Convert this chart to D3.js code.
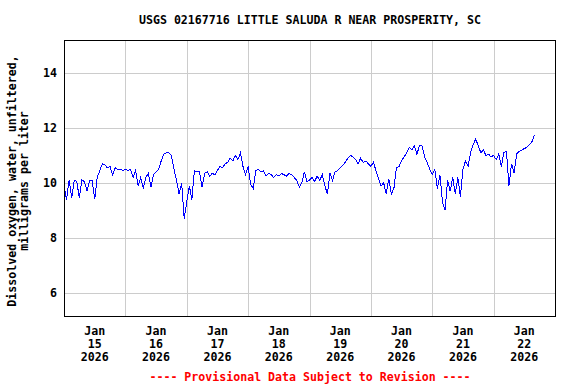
<!DOCTYPE html>
<html><head><meta charset="utf-8">
<script src="https://cdn.jsdelivr.net/npm/d3@7"></script>
<style>body{margin:0;background:#fff}svg{display:block}text{font-family:"DejaVu Sans Mono",monospace;font-weight:bold;font-size:11.6px}</style>
</head><body><svg id="c" width="576" height="384"></svg>
<script>
const title = "USGS 02167716 LITTLE SALUDA R NEAR PROSPERITY, SC";
const yLabel = ["Dissolved oxygen, water, unfiltered,", "milligrams per liter"];
const footnote = "---- Provisional Data Subject to Revision ----";
const startTime = "2026-01-15T00:00";
const endTime = "2026-01-23T00:00";
const yTicks = [6, 8, 10, 12, 14];
const yDomain = [5.16, 15.2];
const dayTicks = ["2026-01-15","2026-01-16","2026-01-17","2026-01-18","2026-01-19","2026-01-20","2026-01-21","2026-01-22"];
// hourly dissolved oxygen values (mg/L) from Jan 15 00:00
const doValues = [
 9.9,9.4,10.1,9.45,10.1,10.05,9.45,10.1,10.05,9.7,10.1,10.1,9.4,10.2,10.45,10.7,10.65,10.55,10.6,10.3,10.55,10.5,10.5,10.45,
 10.5,10.45,10.5,10.2,10.45,9.9,10.2,9.8,10.2,10.35,9.85,10.3,10.4,10.5,10.8,11.05,11.1,11.1,11.0,10.5,10.1,9.6,10.0,8.7,
 9.3,9.9,9.4,10.45,10.4,10.4,9.85,10.35,10.4,10.25,10.35,10.3,10.45,10.6,10.55,10.7,10.75,10.9,10.8,11.0,10.85,11.1,10.6,10.3,
 10.6,9.95,9.8,10.45,10.5,10.4,10.45,10.25,10.35,10.3,10.2,10.3,10.25,10.35,10.3,10.25,10.35,10.3,10.2,10.1,9.85,10.0,10.4,10.05,
 10.1,10.2,10.05,10.25,10.1,10.3,9.9,9.6,10.35,10.1,10.4,10.45,10.55,10.65,10.75,10.9,11.0,10.95,10.85,10.7,10.9,10.75,10.8,10.7,
 10.6,10.75,10.45,10.15,9.9,10.0,9.6,10.15,9.6,9.8,10.55,10.6,10.8,10.95,11.1,11.3,11.2,11.35,11.05,11.35,11.35,10.95,10.75,10.5,
 10.3,10.5,9.8,10.3,9.3,9.0,10.1,9.7,10.2,9.6,10.2,9.5,10.5,10.8,10.6,11.1,11.4,11.6,11.35,11.1,11.2,11.0,11.05,10.95,
 11.0,10.85,11.05,10.6,11.1,11.15,9.9,10.7,10.35,11.05,11.15,11.2,11.25,11.3,11.4,11.5,11.75
];

const parse = d3.timeParse("%Y-%m-%dT%H:%M");
const t0 = parse(startTime), t1 = parse(endTime);
const data = doValues.map((v, i) => ({t: d3.timeHour.offset(t0, i), v}));

const svg = d3.select("#c");
const L = 64, R = 555, T = 40, B = 316;
const x = d3.scaleTime().domain([t0, t1]).range([L, R]);
const y = d3.scaleLinear().domain(yDomain).range([B, T]);

// grid
const g = svg.append("g");
g.selectAll(".hg").data(yTicks).join("line")
  .attr("x1", L).attr("x2", R).attr("y1", d => Math.round(y(d)) + 0.5).attr("y2", d => Math.round(y(d)) + 0.5)
  .attr("stroke", "#cccccc").attr("stroke-width", 1);
const days = dayTicks.map(d => d3.timeParse("%Y-%m-%d")(d));
g.selectAll(".vg").data(days.slice(1)).join("line")
  .attr("x1", d => Math.round(x(d)) + 0.5).attr("x2", d => Math.round(x(d)) + 0.5).attr("y1", T).attr("y2", B)
  .attr("stroke", "#cccccc").attr("stroke-width", 1);

// data line
svg.append("path").datum(data)
  .attr("d", d3.line().x(d => x(d.t)).y(d => y(d.v)))
  .attr("fill", "none").attr("stroke", "#0000ff").attr("stroke-width", 1)
  .attr("shape-rendering", "crispEdges");

// frame
svg.append("rect").attr("x", L + 0.5).attr("y", T + 0.5).attr("width", R - L).attr("height", B - T)
  .attr("fill", "none").attr("stroke", "#000").attr("stroke-width", 1);

// y tick labels
svg.selectAll(".yt").data(yTicks).join("text")
  .attr("x", 57).attr("y", d => y(d)).attr("dy", "0.35em").attr("text-anchor", "end")
  .text(d => d);

// x labels (centered at noon)
const fmtM = d3.timeFormat("%b"), fmtD = d3.timeFormat("%-d"), fmtY = d3.timeFormat("%Y");
const xl = svg.selectAll(".xl").data(days).join("text")
  .attr("text-anchor", "middle")
  .attr("transform", d => `translate(${x(d3.timeHour.offset(d, 12))},0)`);
xl.append("tspan").attr("x", 0).attr("y", 335).text(d => fmtM(d));
xl.append("tspan").attr("x", 0).attr("y", 348).text(d => fmtD(d));
xl.append("tspan").attr("x", 0).attr("y", 361).text(d => fmtY(d));

// title
svg.append("text").attr("x", 310).attr("y", 24).attr("text-anchor", "middle").text(title);

// y label
svg.selectAll(".yl").data(yLabel).join("text")
  .attr("transform", (d, i) => `translate(${16 + i * 12},${181}) rotate(-90)`)
  .attr("text-anchor", "middle").text(d => d);

// footnote
svg.append("text").attr("x", 310).attr("y", 381).attr("text-anchor", "middle")
  .attr("fill", "#ff0000").text(footnote);
</script></body></html>
